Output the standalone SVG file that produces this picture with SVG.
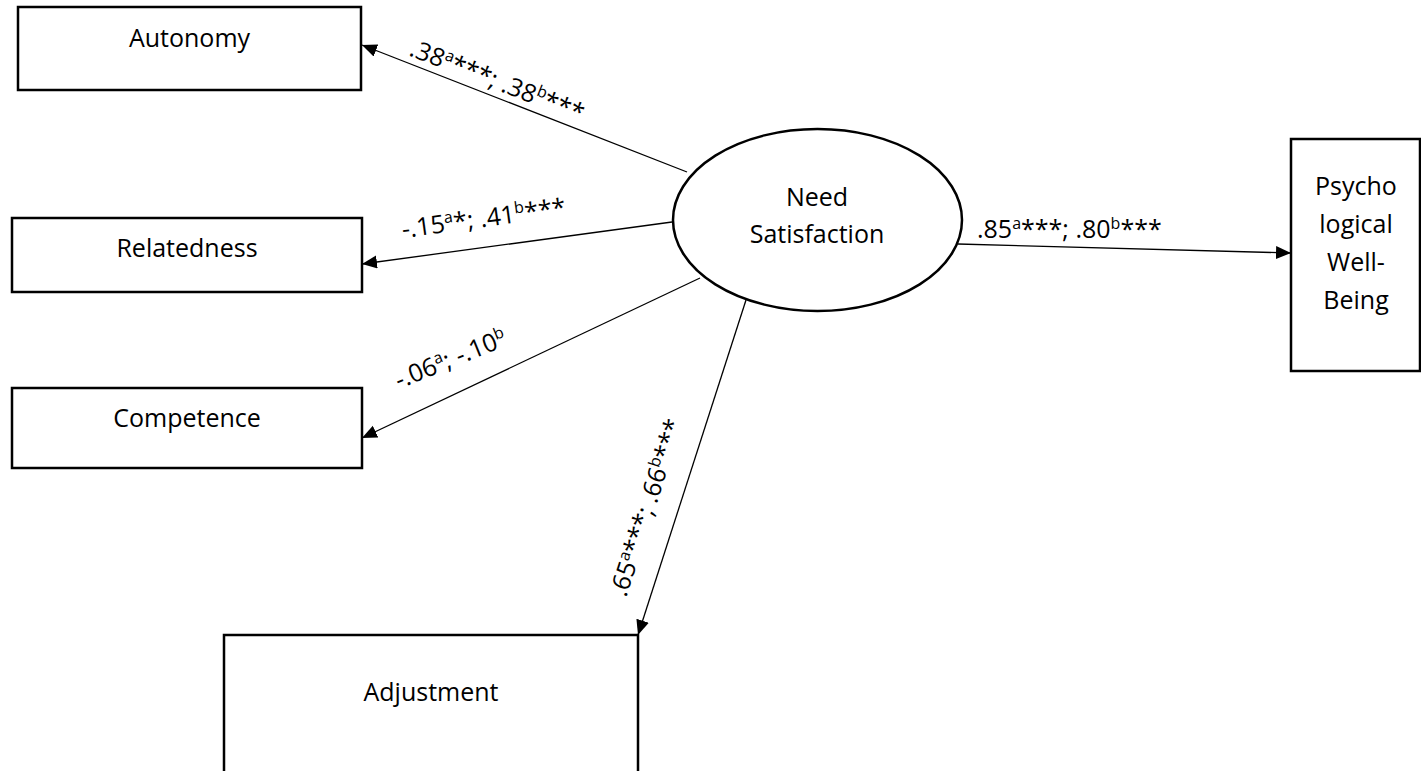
<svg xmlns="http://www.w3.org/2000/svg" width="1421" height="771" viewBox="0 0 1421 771">
<style>
.box{fill:#fff;stroke:#000;stroke-width:2.5}
.ell{fill:#fff;stroke:#000;stroke-width:2.5}
.node{font-family:"Open Sans","Liberation Sans",sans-serif;font-size:25px;fill:#000;text-anchor:middle}
.lbl{font-family:"Open Sans","Liberation Sans",sans-serif;font-size:25px;fill:#000}
.sup{font-size:16px}
.conn{stroke:#000;stroke-width:1.3;fill:none;marker-end:url(#arr)}
</style>
<defs>
<marker id="arr" markerUnits="userSpaceOnUse" markerWidth="16" markerHeight="14" refX="15" refY="6.5" orient="auto">
<path d="M0,0 L15,6.5 L0,13 z" fill="#000"/>
</marker>
</defs>
<rect width="1421" height="771" fill="#fff"/>
<g id="connectors">
<line class="conn" x1="687" y1="172" x2="362" y2="45"/>
<line class="conn" x1="672" y1="222" x2="362" y2="264"/>
<line class="conn" x1="700" y1="278" x2="362" y2="438"/>
<line class="conn" x1="746" y1="300" x2="638" y2="635"/>
<line class="conn" x1="958" y1="244" x2="1291" y2="253"/>
<text class="lbl" transform="translate(408,55) rotate(21.4)">.38<tspan class="sup" dy="-9">a</tspan><tspan dy="9">***; .38</tspan><tspan class="sup" dy="-9">b</tspan><tspan dy="9">***</tspan></text>
<text class="lbl" transform="translate(403,238) rotate(-7.8)">-.15<tspan class="sup" dy="-9">a</tspan><tspan dy="9">*; .41</tspan><tspan class="sup" dy="-9">b</tspan><tspan dy="9">***</tspan></text>
<text class="lbl" transform="translate(399,389) rotate(-22)">-.06<tspan class="sup" dy="-9">a</tspan><tspan dy="9">; -.10</tspan><tspan class="sup" dy="-9">b</tspan></text>
<text class="lbl" transform="translate(626,598) rotate(-72)">.65<tspan class="sup" dy="-9">a</tspan><tspan dy="9">***; .66</tspan><tspan class="sup" dy="-9">b</tspan><tspan dy="9">***</tspan></text>
<text class="lbl" transform="translate(977,238)">.85<tspan class="sup" dy="-9">a</tspan><tspan dy="9">***; .80</tspan><tspan class="sup" dy="-9">b</tspan><tspan dy="9">***</tspan></text>
</g>
<g id="autonomy">
<rect class="box" x="18" y="7" width="343" height="83"/>
<text class="node" x="189.5" y="47">Autonomy</text>
</g>
<g id="relatedness">
<rect class="box" x="12" y="218" width="350" height="74"/>
<text class="node" x="187" y="257">Relatedness</text>
</g>
<g id="competence">
<rect class="box" x="12" y="388" width="350" height="80"/>
<text class="node" x="187" y="427">Competence</text>
</g>
<g id="adjustment">
<rect class="box" x="224" y="635" width="414" height="150"/>
<text class="node" x="431" y="701">Adjustment</text>
</g>
<g id="need-satisfaction">
<ellipse class="ell" cx="817.5" cy="220" rx="144.5" ry="91"/>
<text class="node" x="817" y="206">Need</text>
<text class="node" x="817" y="243">Satisfaction</text>
</g>
<g id="psychological-well-being">
<rect class="box" x="1291" y="139" width="129" height="232"/>
<text class="node" x="1356" y="195">Psycho</text>
<text class="node" x="1356" y="233">logical</text>
<text class="node" x="1356" y="271">Well-</text>
<text class="node" x="1356" y="309">Being</text>
</g>
</svg>
